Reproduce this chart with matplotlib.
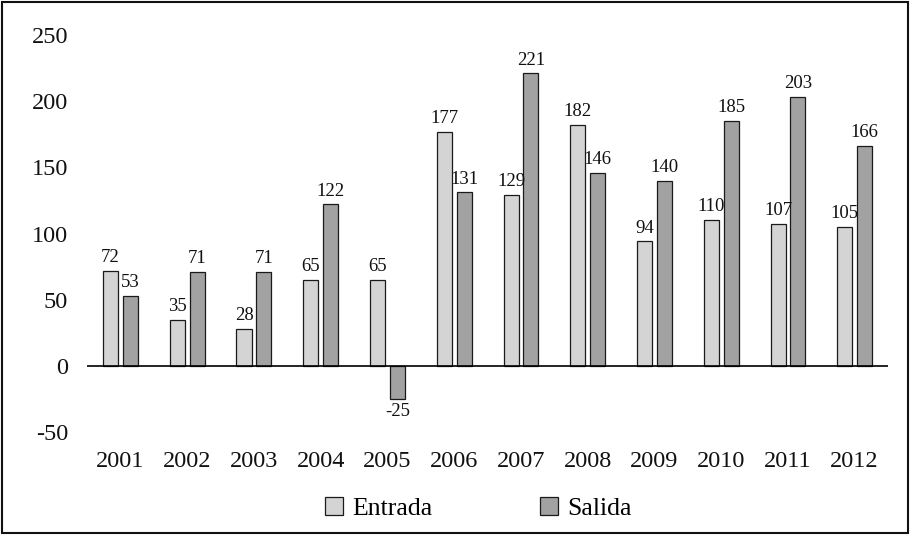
import numpy as np
import matplotlib
matplotlib.use('Agg')
import matplotlib.pyplot as plt
from matplotlib.patches import Rectangle

# data
years = ['2001', '2002', '2003', '2004', '2005', '2006',
         '2007', '2008', '2009', '2010', '2011', '2012']
entrada = [72, 35, 28, 65, 65, 177, 129, 182, 94, 110, 107, 105]
salida = [53, 71, 71, 122, -25, 131, 221, 146, 140, 185, 203, 166]
yticks = [-50, 0, 50, 100, 150, 200, 250]

plt.rcParams['font.family'] = ['Liberation Serif', 'DejaVu Serif']

fig = plt.figure(figsize=(9.11, 5.37), dpi=100)
ax = fig.add_axes([0.0955, 0.1955, 0.8793, 0.7393])

x = np.arange(len(years))
width = 0.225
offset = 0.148

b1 = ax.bar(x - offset, entrada, width, color='#d4d4d4', edgecolor='#1a1a1a',
            linewidth=0.9, label='Entrada', zorder=2)
b2 = ax.bar(x + offset, salida, width, color='#a2a2a2', edgecolor='#1a1a1a',
            linewidth=0.9, label='Salida', zorder=2)

# value labels above (or below for negatives) each bar
for bars, vals in [(b1, entrada), (b2, salida)]:
    for rect, v in zip(bars, vals):
        cx = rect.get_x() + rect.get_width() / 2
        if v >= 0:
            ax.annotate(str(v), (cx, v), xytext=(0, 3.5), textcoords='offset points',
                        ha='center', va='bottom', fontsize=13.5, color='#111111')
        else:
            ax.annotate(str(v), (cx, v), xytext=(0, -3), textcoords='offset points',
                        ha='center', va='top', fontsize=13.5, color='#111111')

ax.axhline(0, color='black', linewidth=1.2, zorder=3)

ax.set_xlim(-0.5, len(years) - 0.5)
ax.set_ylim(-50, 250)
ax.set_xticks(x)
ax.set_xticklabels(years)
ax.set_yticks(yticks)
ax.set_yticklabels([str(t) for t in yticks])
ax.tick_params(axis='both', length=0, labelsize=17.5, colors='#111111')
ax.tick_params(axis='y', pad=13.7)
ax.tick_params(axis='x', pad=13.5)
for s in ax.spines.values():
    s.set_visible(False)

fig.legend(handles=[b1, b2], labels=['Entrada', 'Salida'], loc='center',
           bbox_to_anchor=(0.525, 0.053), ncol=2, frameon=False, fontsize=18.5,
           handlelength=0.7, handleheight=0.7, handletextpad=0.35,
           columnspacing=4.2)

# frame around the whole picture
fig.patches.append(Rectangle((2.3 / 911, 4.3 / 537), 906 / 911, 530.4 / 537,
                             transform=fig.transFigure, fill=False,
                             edgecolor='#111111', linewidth=1.5))

fig.savefig('out.png', dpi=100)
